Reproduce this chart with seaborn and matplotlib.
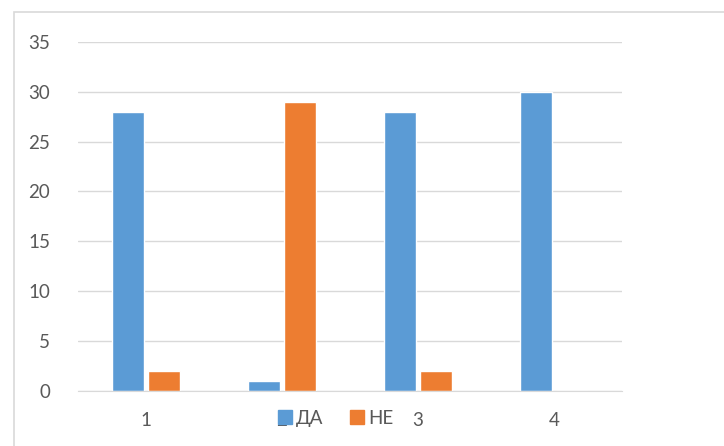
import pandas as pd
import numpy as np
import matplotlib.pyplot as plt
import seaborn as sns
from matplotlib.patches import Rectangle

# data
categories = ['1', '2', '3', '4']
da_values = [28, 1, 28, 30]
ne_values = [2, 29, 2, 0]
series_names = ['ДА', 'НЕ']
yticks = [0, 5, 10, 15, 20, 25, 30, 35]

df = pd.DataFrame({
    'cat': categories * 2,
    'value': da_values + ne_values,
    'series': [series_names[0]] * 4 + [series_names[1]] * 4,
})

sns.set_style('white')
plt.rcParams['font.family'] = ['Lato', 'DejaVu Sans']

fig = plt.figure(figsize=(7.24, 4.46), dpi=100)
ax = fig.add_axes([0.1077, 0.1233, 0.7513, 0.7832])

sns.barplot(data=df, x='cat', y='value', hue='series',
            palette=['#5B9BD5', '#ED7D31'], width=0.52, gap=0.1,
            saturation=1, ax=ax, legend=False)

ax.set_ylim(0, 35)
ax.set_yticks(yticks)
ax.yaxis.grid(True, color='#d9d9d9', linewidth=1)
ax.set_axisbelow(True)
for s in ['top', 'right', 'left']:
    ax.spines[s].set_visible(False)
ax.spines['bottom'].set_color('#d9d9d9')
ax.tick_params(length=0, labelsize=13.5, colors='#595959')
ax.tick_params(axis='y', pad=20)
ax.tick_params(axis='x', pad=15)
ax.set_xlabel('')
ax.set_ylabel('')

# legend at bottom, over the category labels
handles = [plt.Line2D([], [], marker='s', linestyle='', markersize=10, color=c)
           for c in ['#5B9BD5', '#ED7D31']]
fig.legend(handles, series_names, loc='center', bbox_to_anchor=(0.462, 0.062),
           ncol=2, frameon=False, fontsize=13.5, labelcolor='#595959',
           handletextpad=0.1, columnspacing=1.3, handlelength=1.0)

# chart border (only left and top visible)
fig.patches.append(Rectangle((14 / 724, -0.1), 1.2, 1 - 12 / 446 + 0.1,
                             transform=fig.transFigure, fill=False,
                             edgecolor='#d9d9d9', linewidth=1.2))

fig.savefig('out.png', dpi=100)
